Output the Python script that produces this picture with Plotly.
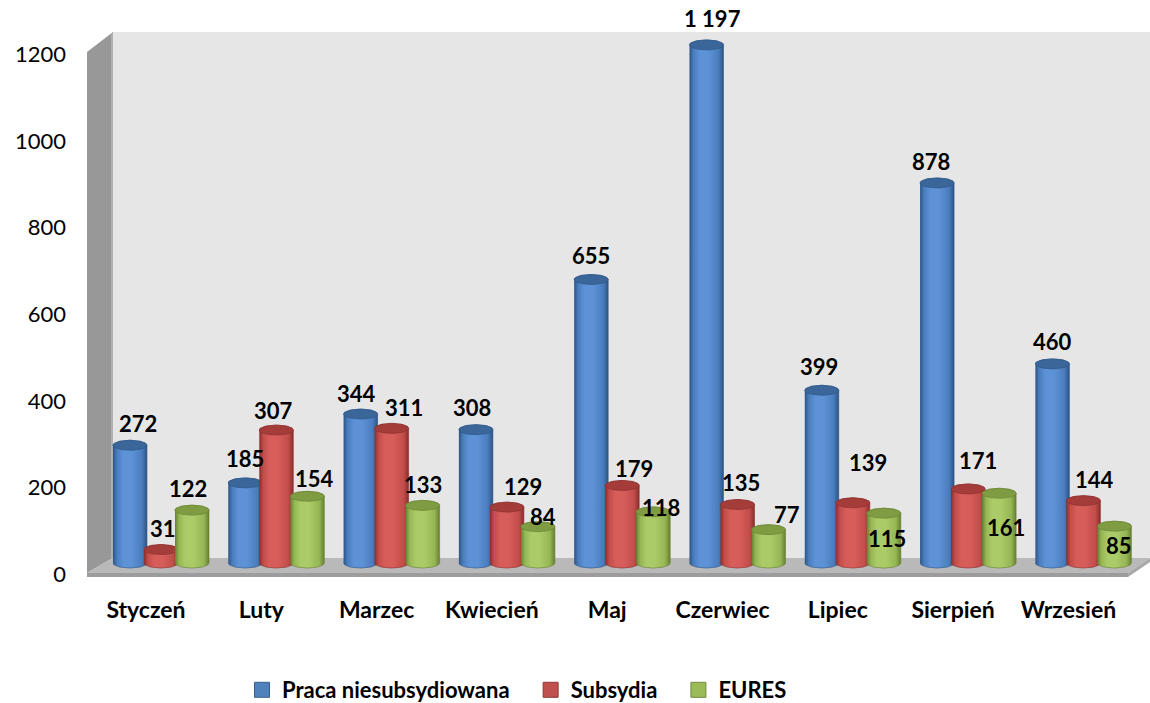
"""Oferty pracy 2013 — wykres cylindryczny w stylu Excel 3D."""

import numpy as np
import plotly.graph_objects as go

months = ["Styczeń", "Luty", "Marzec", "Kwiecień", "Maj",
          "Czerwiec", "Lipiec", "Sierpień", "Wrzesień"]
praca = [272, 185, 344, 308, 655, 1197, 399, 878, 460]
subsydia = [31, 307, 311, 129, 179, 135, 139, 171, 144]
eures = [122, 154, 133, 84, 118, 77, 115, 161, 85]
y_ticks = [0, 200, 400, 600, 800, 1000, 1200]

# style: (name, values, offset, edge, light, mid, cap, label dx, label dy)
SERIES = [
    ("Praca niesubsydiowana", praca, -0.139, "#2c5485", "#5d92d6", "#4a7dbd", "#3b6699",
     [8, 0, -4, -4, 0, 6, -3, -6, 0], [22, 24, 21, 22, 24, 26, 24, 22, 22]),
    ("Subsydia", subsydia, 0.130, "#8a2e2c", "#d65d5a", "#c24d4a", "#a43d3a",
     [2, -3, 12, 16, 12, 4, 15, 10, 11], [21, 20, 21, 21, 17, 22, 40, 28, 21]),
    ("EURES", eures, 0.399, "#667f31", "#abcb68", "#96b655", "#7f9c42",
     [-4, 7, 0, 5, 8, 18, 3, 7, 5], [22, 18, 21, 10, 4, 15, -25, -34, -19]),
]
LEGEND_COLORS = ["#4f81bd", "#c0504d", "#9bbb59"]
LEGEND_EDGES = ["#385d8a", "#8c3836", "#71893f"]

W, H = 1150, 703
ML, MR, MT, MB = 87, 0, 30, 123
PX_PER_CAT = 115.3
X0_PX = 146
PX_PER_VAL = 0.4328
ZERO_PX = 563

x_range = [(ML - X0_PX) / PX_PER_CAT, (W - MR - X0_PX) / PX_PER_CAT]
y_range = [(ZERO_PX - (H - MB)) / PX_PER_VAL, (ZERO_PX - MT) / PX_PER_VAL]

RX = 0.295 / 2
RY = 5 / PX_PER_VAL


def px(x, y):
    """pixel -> paper coordinates"""
    return (x - ML) / (W - ML - MR), ((H - MB) - y) / (H - MT - MB)


def path(points):
    pts = [px(*p) for p in points]
    return "M " + " L ".join(f"{a:.5f},{b:.5f}" for a, b in pts) + " Z"


fig = go.Figure()

pad = "\u00a0" * 3
for k, (name, color, edge) in enumerate(zip([s[0] for s in SERIES], LEGEND_COLORS, LEGEND_EDGES)):
    fig.add_trace(go.Scatter(
        x=[None], y=[None], mode="markers",
        name=name + (pad if k < len(SERIES) - 1 else ""),
        marker=dict(symbol="square", size=15, color=color,
                    line=dict(color=edge, width=1)),
    ))

t_low = np.linspace(np.pi, 2 * np.pi, 30)
t_up = np.linspace(0, np.pi, 30)
t_full = np.linspace(0, 2 * np.pi, 60)

annotations = []
for i in range(len(months)):
    for name, vals, off, edge, light, mid, cap, dxs, dys in SERIES:
        v = vals[i]
        cx = i + off
        bx = list(cx + RX * np.cos(t_low)) + list(cx + RX * np.cos(t_up))
        by = list(RY * np.sin(t_low)) + list(v + RY * np.sin(t_up))
        fig.add_trace(go.Scatter(
            x=bx, y=by, mode="lines", fill="toself",
            line=dict(color=edge, width=0.6),
            fillgradient=dict(
                type="horizontal",
                colorscale=[[0, edge], [0.12, mid], [0.3, light], [0.55, light],
                            [0.85, mid], [1, edge]],
            ),
            showlegend=False, hoverinfo="skip",
        ))
        fig.add_trace(go.Scatter(
            x=cx + RX * np.cos(t_full), y=v + RY * np.sin(t_full),
            mode="lines", fill="toself", fillcolor=cap,
            line=dict(color=edge, width=0.6),
            showlegend=False, hoverinfo="skip",
        ))
        annotations.append(dict(
            x=cx, y=v, xref="x", yref="y",
            text=f"{v:,}".replace(",", "\u00a0"), showarrow=False,
            xshift=dxs[i], yshift=dys[i],
            font=dict(family="Lato", size=22, color="black", weight="bold"),
        ))

shapes = [
    # back wall
    dict(type="path", path=path([(113, 32), (1150, 32), (1150, 558), (113, 558)]),
         fillcolor="#e6e6e6", line=dict(width=0)),
    # side wall
    dict(type="path", path=path([(87, 52), (113, 32), (113, 558), (87, 573)]),
         fillcolor="#989898", line=dict(width=0)),
    dict(type="path", path=path([(111, 34), (113, 32), (113, 558), (111, 559)]),
         fillcolor="#b0b0b0", line=dict(width=0)),
    # floor
    dict(type="path", path=path([(87, 573), (113, 558), (1150, 558), (1128, 573)]),
         fillcolor="#b9b9b9", line=dict(width=0)),
    dict(type="path", path=path([(87, 573), (1128, 573), (1128, 577), (87, 577)]),
         fillcolor="#9c9c9c", line=dict(width=0)),
    dict(type="path", path=path([(1128, 573), (1150, 558), (1150, 562), (1128, 577)]),
         fillcolor="#a8a8a8", line=dict(width=0)),
]
for s in shapes:
    s.update(xref="paper", yref="paper", layer="below")

fig.update_layout(
    width=W, height=H,
    margin=dict(l=ML, r=MR, t=MT, b=MB, autoexpand=False),
    paper_bgcolor="white", plot_bgcolor="rgba(0,0,0,0)",
    shapes=shapes, annotations=annotations,
    showlegend=True,
    legend=dict(
        orientation="h", x=(517 - ML) / (W - ML - MR), xanchor="center",
        y=(H - MB - 690) / (H - MT - MB), yanchor="middle",
        font=dict(family="Lato", size=22, color="black", weight="bold"),
        itemclick=False, itemdoubleclick=False,
    ),
    xaxis=dict(
        range=x_range, showgrid=False, zeroline=False, showline=False,
        tickmode="array", tickvals=list(range(len(months))), ticktext=months,
        tickfont=dict(family="Lato", size=23, color="black", weight="bold"),
        ticklabelstandoff=14, fixedrange=True,
    ),
    yaxis=dict(
        range=y_range, showgrid=False, zeroline=False, showline=False,
        tickmode="array", tickvals=y_ticks, ticktext=[str(t) for t in y_ticks],
        tickfont=dict(family="Lato", size=22, color="black"),
        ticklabelshift=11, ticklabelstandoff=20, fixedrange=True,
    ),
)

fig.write_html(
    "out.html",
    config={"displayModeBar": False},
    post_script="document.body.style.margin='0';document.body.style.overflow='hidden';",
)
